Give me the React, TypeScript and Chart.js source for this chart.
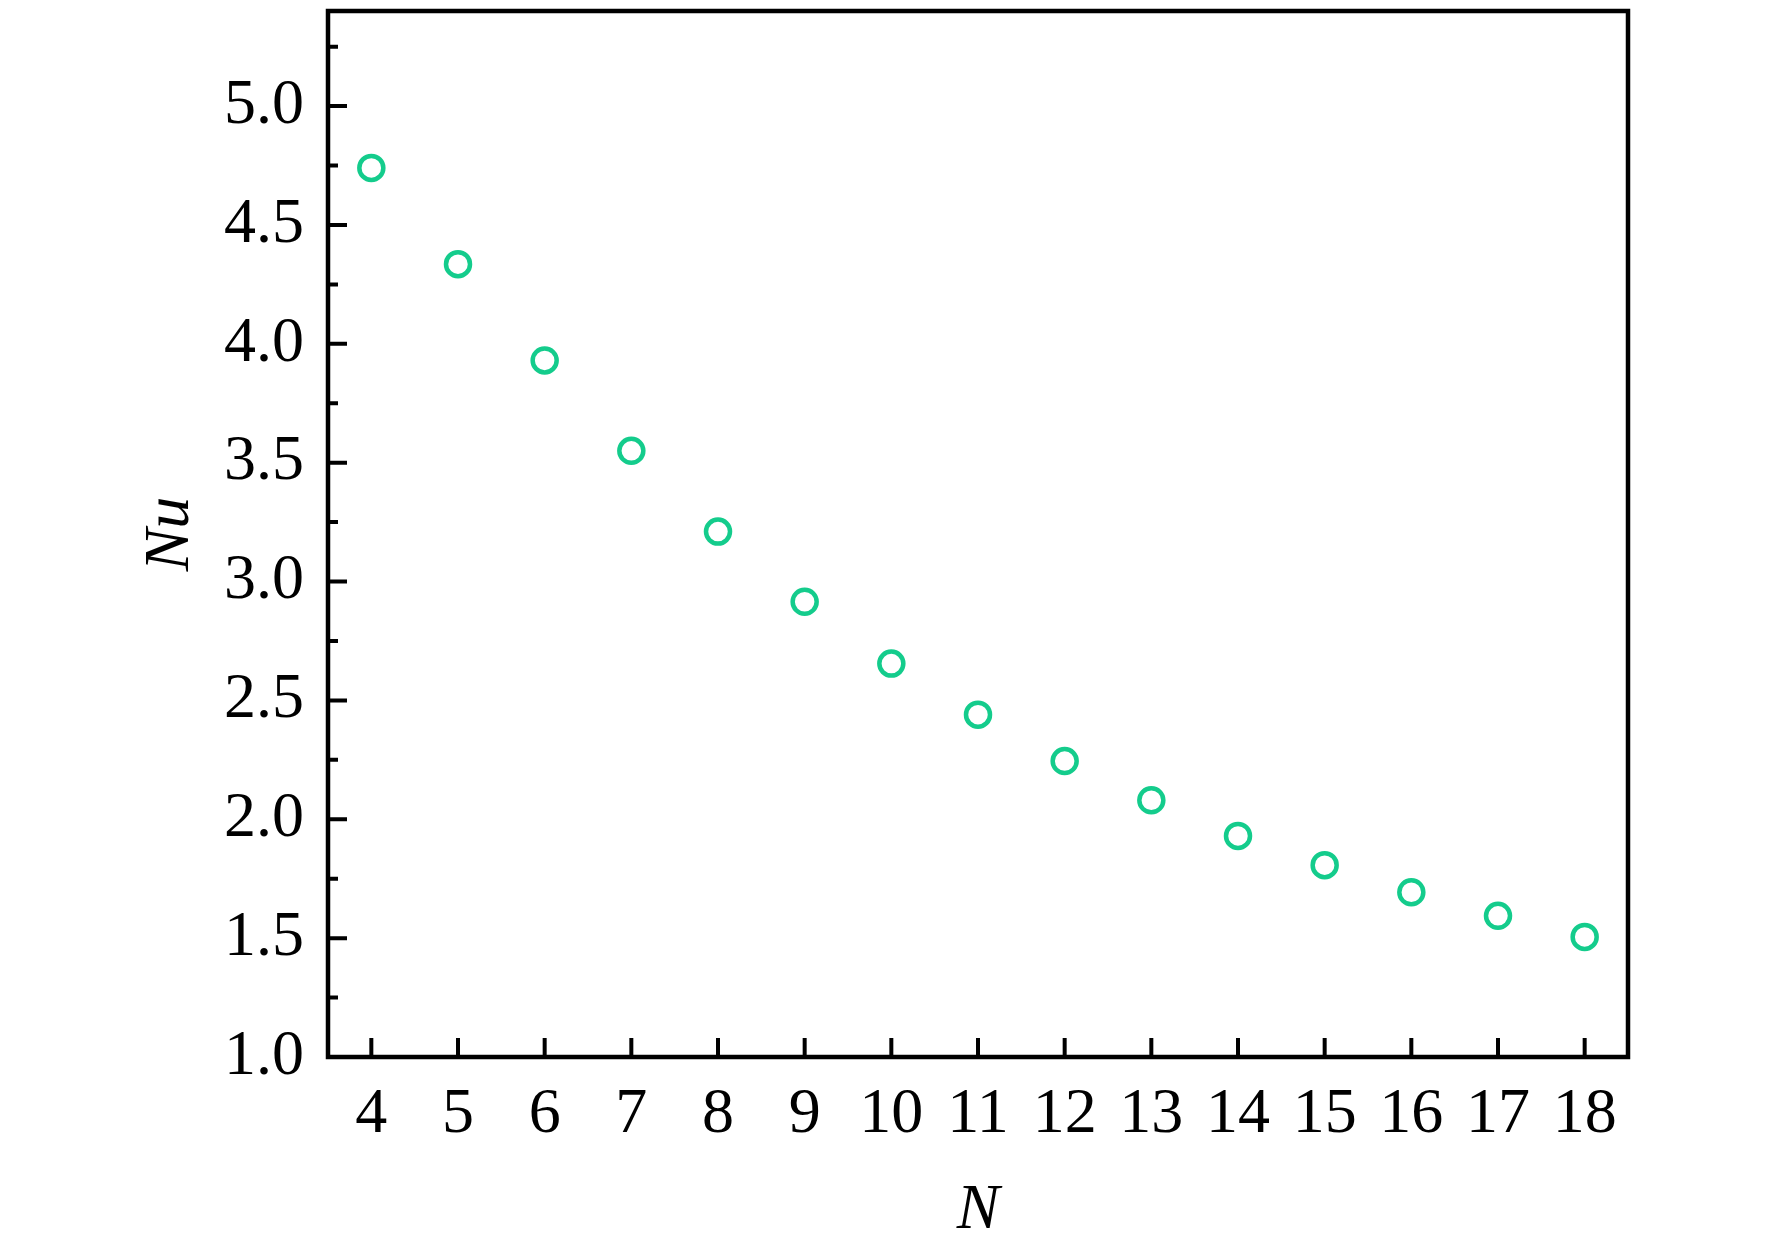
import React, { useEffect, useRef } from "react";
import { Chart, registerables } from "chart.js";

Chart.register(...registerables);

const nValues = [4, 5, 6, 7, 8, 9, 10, 11, 12, 13, 14, 15, 16, 17, 18];
const nuValues = [4.74, 4.335, 3.93, 3.55, 3.21, 2.915, 2.655, 2.44, 2.245, 2.08, 1.93, 1.807, 1.693, 1.594, 1.505];
const xTicks = [4, 5, 6, 7, 8, 9, 10, 11, 12, 13, 14, 15, 16, 17, 18];
const yTicks = [1.0, 1.5, 2.0, 2.5, 3.0, 3.5, 4.0, 4.5, 5.0];
const yMinorTicks = [1.25, 1.75, 2.25, 2.75, 3.25, 3.75, 4.25, 4.75, 5.25];

const FONT = '"Liberation Serif", "Times New Roman", Times, serif';

const framePlugin = {
  id: "frameTicks",
  afterDatasetsDraw(chart: any) {
    const { ctx, chartArea } = chart;
    const xs = chart.scales.x;
    const ys = chart.scales.y;
    const { left, right, top, bottom } = chartArea;
    ctx.save();
    ctx.strokeStyle = "#000";
    ctx.lineCap = "butt";
    ctx.lineWidth = 4;
    ctx.beginPath();
    yTicks.forEach((v) => {
      const py = ys.getPixelForValue(v);
      ctx.moveTo(left, py);
      ctx.lineTo(left + 19, py);
    });
    yMinorTicks.forEach((v) => {
      const py = ys.getPixelForValue(v);
      ctx.moveTo(left, py);
      ctx.lineTo(left + 10, py);
    });
    xTicks.forEach((v) => {
      const px = xs.getPixelForValue(v);
      ctx.moveTo(px, bottom);
      ctx.lineTo(px, bottom - 19);
    });
    ctx.stroke();
    ctx.lineWidth = 4.5;
    ctx.lineJoin = "miter";
    ctx.strokeRect(left, top, right - left, bottom - top);
    ctx.restore();
  },
};

export default function App() {
  const ref = useRef<HTMLCanvasElement | null>(null);
  useEffect(() => {
    let chart: any = null;
    let cancelled = false;
    const build = () => {
      if (cancelled || !ref.current) return;
      chart = new Chart(ref.current, {
        type: "scatter",
        data: {
          datasets: [
            {
              data: nValues.map((n, i) => ({ x: n, y: nuValues[i] })),
              pointStyle: "circle",
              pointRadius: 12,
              pointHoverRadius: 12,
              pointBorderWidth: 4.5,
              borderColor: "#14cc8c",
              pointBorderColor: "#14cc8c",
              pointBackgroundColor: "rgba(255,255,255,0)",
              showLine: false,
            },
          ],
        },
        options: {
          responsive: false,
          animation: false,
          devicePixelRatio: 1,
          layout: { autoPadding: false, padding: { top: 11, right: 144, left: 0, bottom: 0 } },
          plugins: {
            legend: { display: false },
            tooltip: { enabled: false },
          },
          scales: {
            x: {
              type: "linear",
              min: 3.5,
              max: 18.5,
              grid: { display: false, drawTicks: false },
              border: { display: false },
              afterBuildTicks: (scale: any) => {
                scale.ticks = xTicks.map((v) => ({ value: v }));
              },
              afterFit: (scale: any) => {
                scale.height = 193;
                scale.paddingLeft = 0;
                scale.paddingRight = 0;
              },
              ticks: {
                color: "#000",
                font: { family: FONT, size: 64 },
                padding: 20,
                maxRotation: 0,
                autoSkip: false,
                callback: (v: any) => String(v),
              },
              title: {
                display: true,
                text: "N",
                color: "#000",
                font: { family: FONT, size: 64, style: "italic" },
                padding: { top: 0, bottom: 0 },
              },
            },
            y: {
              type: "linear",
              min: 1.0,
              max: 5.4,
              grid: { display: false, drawTicks: false },
              border: { display: false },
              afterBuildTicks: (scale: any) => {
                scale.ticks = yTicks.map((v) => ({ value: v }));
              },
              afterFit: (scale: any) => {
                scale.width = 328;
                scale.paddingTop = 0;
                scale.paddingBottom = 0;
              },
              ticks: {
                color: "#000",
                font: { family: FONT, size: 64 },
                padding: 24,
                autoSkip: false,
                callback: (v: any) => Number(v).toFixed(1),
              },
              title: {
                display: true,
                text: "Nu",
                color: "#000",
                font: { family: FONT, size: 64, style: "italic" },
                padding: { top: 133, bottom: 0 },
              },
            },
          },
        },
        plugins: [framePlugin],
      });
    };
    const fonts: any = (document as any).fonts;
    if (fonts && fonts.load) {
      Promise.all([
        fonts.load('64px "Liberation Serif"'),
        fonts.load('italic 64px "Liberation Serif"'),
      ])
        .catch(() => null)
        .then(build);
    } else {
      build();
    }
    return () => {
      cancelled = true;
      if (chart) chart.destroy();
    };
  }, []);
  return (
    <div style={{ position: "absolute", left: 0, top: 0, width: 1772, height: 1250, background: "#fff" }}>
      <span style={{ fontFamily: FONT, position: "absolute", left: -9999, top: 0 }}>0</span>
      <span style={{ fontFamily: FONT, fontStyle: "italic", position: "absolute", left: -9999, top: 0 }}>N</span>
      <canvas ref={ref} width={1772} height={1250} style={{ width: 1772, height: 1250, display: "block" }} />
    </div>
  );
}
